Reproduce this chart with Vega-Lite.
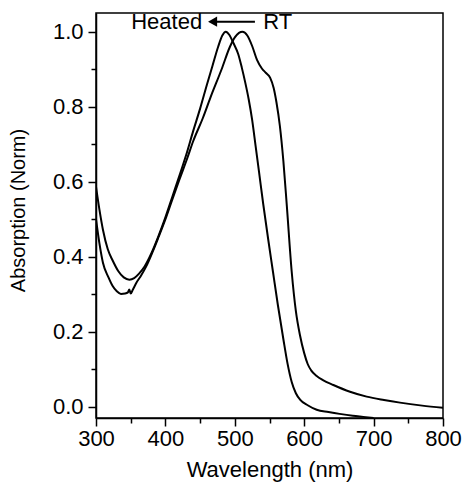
{
  "$schema": "https://vega.github.io/schema/vega-lite/v6.json",
  "autosize": {"type": "none"},
  "padding": {"left": 96, "top": 13, "right": 20, "bottom": 64},
  "width": 347,
  "height": 405,
  "background": "white",
  "config": {
    "view": {"stroke": "black", "strokeWidth": 1.5},
    "font": "Liberation Sans",
    "axis": {"grid": false, "labelFlush": false, "labelOverlap": false, "domainColor": "black", "tickColor": "black", "labelColor": "black", "titleColor": "black", "domainWidth": 1.5, "tickWidth": 1.5, "labelFont": "Liberation Sans", "titleFont": "Liberation Sans", "titleFontWeight": "normal"}
  },
  "datasets": {
    "spectra": [
      {"wl": 300, "abs": 0.587, "sample": "Heated"},
      {"wl": 305, "abs": 0.525, "sample": "Heated"},
      {"wl": 310, "abs": 0.472, "sample": "Heated"},
      {"wl": 317, "abs": 0.42, "sample": "Heated"},
      {"wl": 324, "abs": 0.39, "sample": "Heated"},
      {"wl": 332, "abs": 0.362, "sample": "Heated"},
      {"wl": 340, "abs": 0.345, "sample": "Heated"},
      {"wl": 348, "abs": 0.339, "sample": "Heated"},
      {"wl": 355, "abs": 0.343, "sample": "Heated"},
      {"wl": 362, "abs": 0.355, "sample": "Heated"},
      {"wl": 370, "abs": 0.374, "sample": "Heated"},
      {"wl": 380, "abs": 0.41, "sample": "Heated"},
      {"wl": 390, "abs": 0.455, "sample": "Heated"},
      {"wl": 400, "abs": 0.505, "sample": "Heated"},
      {"wl": 410, "abs": 0.56, "sample": "Heated"},
      {"wl": 420, "abs": 0.615, "sample": "Heated"},
      {"wl": 430, "abs": 0.672, "sample": "Heated"},
      {"wl": 440, "abs": 0.735, "sample": "Heated"},
      {"wl": 450, "abs": 0.795, "sample": "Heated"},
      {"wl": 460, "abs": 0.86, "sample": "Heated"},
      {"wl": 468, "abs": 0.91, "sample": "Heated"},
      {"wl": 476, "abs": 0.96, "sample": "Heated"},
      {"wl": 482, "abs": 0.99, "sample": "Heated"},
      {"wl": 487, "abs": 1.0, "sample": "Heated"},
      {"wl": 492, "abs": 0.992, "sample": "Heated"},
      {"wl": 498, "abs": 0.97, "sample": "Heated"},
      {"wl": 505, "abs": 0.94, "sample": "Heated"},
      {"wl": 510, "abs": 0.905, "sample": "Heated"},
      {"wl": 515, "abs": 0.865, "sample": "Heated"},
      {"wl": 520, "abs": 0.82, "sample": "Heated"},
      {"wl": 525, "abs": 0.765, "sample": "Heated"},
      {"wl": 530, "abs": 0.695, "sample": "Heated"},
      {"wl": 535, "abs": 0.625, "sample": "Heated"},
      {"wl": 541, "abs": 0.54, "sample": "Heated"},
      {"wl": 548, "abs": 0.448, "sample": "Heated"},
      {"wl": 555, "abs": 0.36, "sample": "Heated"},
      {"wl": 562, "abs": 0.272, "sample": "Heated"},
      {"wl": 570, "abs": 0.18, "sample": "Heated"},
      {"wl": 576, "abs": 0.115, "sample": "Heated"},
      {"wl": 582, "abs": 0.066, "sample": "Heated"},
      {"wl": 588, "abs": 0.036, "sample": "Heated"},
      {"wl": 594, "abs": 0.019, "sample": "Heated"},
      {"wl": 605, "abs": 0.004, "sample": "Heated"},
      {"wl": 618, "abs": -0.008, "sample": "Heated"},
      {"wl": 635, "abs": -0.014, "sample": "Heated"},
      {"wl": 651, "abs": -0.019, "sample": "Heated"},
      {"wl": 670, "abs": -0.024, "sample": "Heated"},
      {"wl": 685, "abs": -0.027, "sample": "Heated"},
      {"wl": 700, "abs": -0.03, "sample": "Heated"},
      {"wl": 300, "abs": 0.5, "sample": "RT"},
      {"wl": 305, "abs": 0.435, "sample": "RT"},
      {"wl": 310, "abs": 0.384, "sample": "RT"},
      {"wl": 318, "abs": 0.345, "sample": "RT"},
      {"wl": 324, "abs": 0.322, "sample": "RT"},
      {"wl": 330, "abs": 0.308, "sample": "RT"},
      {"wl": 336, "abs": 0.301, "sample": "RT"},
      {"wl": 342, "abs": 0.302, "sample": "RT"},
      {"wl": 346, "abs": 0.305, "sample": "RT"},
      {"wl": 348, "abs": 0.313, "sample": "RT"},
      {"wl": 350, "abs": 0.302, "sample": "RT"},
      {"wl": 353, "abs": 0.312, "sample": "RT"},
      {"wl": 358, "abs": 0.33, "sample": "RT"},
      {"wl": 365, "abs": 0.35, "sample": "RT"},
      {"wl": 372, "abs": 0.373, "sample": "RT"},
      {"wl": 382, "abs": 0.415, "sample": "RT"},
      {"wl": 390, "abs": 0.452, "sample": "RT"},
      {"wl": 401, "abs": 0.505, "sample": "RT"},
      {"wl": 410, "abs": 0.553, "sample": "RT"},
      {"wl": 420, "abs": 0.605, "sample": "RT"},
      {"wl": 431, "abs": 0.66, "sample": "RT"},
      {"wl": 440, "abs": 0.708, "sample": "RT"},
      {"wl": 454, "abs": 0.77, "sample": "RT"},
      {"wl": 465, "abs": 0.825, "sample": "RT"},
      {"wl": 481, "abs": 0.9, "sample": "RT"},
      {"wl": 493, "abs": 0.96, "sample": "RT"},
      {"wl": 500, "abs": 0.985, "sample": "RT"},
      {"wl": 506, "abs": 0.997, "sample": "RT"},
      {"wl": 511, "abs": 1.0, "sample": "RT"},
      {"wl": 518, "abs": 0.99, "sample": "RT"},
      {"wl": 525, "abs": 0.962, "sample": "RT"},
      {"wl": 532, "abs": 0.925, "sample": "RT"},
      {"wl": 539, "abs": 0.902, "sample": "RT"},
      {"wl": 545, "abs": 0.89, "sample": "RT"},
      {"wl": 551, "abs": 0.877, "sample": "RT"},
      {"wl": 556, "abs": 0.85, "sample": "RT"},
      {"wl": 560, "abs": 0.812, "sample": "RT"},
      {"wl": 565, "abs": 0.748, "sample": "RT"},
      {"wl": 570, "abs": 0.655, "sample": "RT"},
      {"wl": 575, "abs": 0.535, "sample": "RT"},
      {"wl": 582, "abs": 0.36, "sample": "RT"},
      {"wl": 588, "abs": 0.255, "sample": "RT"},
      {"wl": 594, "abs": 0.19, "sample": "RT"},
      {"wl": 600, "abs": 0.143, "sample": "RT"},
      {"wl": 605, "abs": 0.114, "sample": "RT"},
      {"wl": 610, "abs": 0.097, "sample": "RT"},
      {"wl": 618, "abs": 0.082, "sample": "RT"},
      {"wl": 627, "abs": 0.071, "sample": "RT"},
      {"wl": 642, "abs": 0.058, "sample": "RT"},
      {"wl": 666, "abs": 0.04, "sample": "RT"},
      {"wl": 690, "abs": 0.027, "sample": "RT"},
      {"wl": 715, "abs": 0.018, "sample": "RT"},
      {"wl": 738, "abs": 0.011, "sample": "RT"},
      {"wl": 770, "abs": 0.003, "sample": "RT"},
      {"wl": 800, "abs": -0.003, "sample": "RT"}
    ],
    "labelLeft": [
      {"wl": 453, "abs": 1.027, "text": "Heated"}
    ],
    "labelRight": [
      {"wl": 541, "abs": 1.027, "text": "RT"}
    ],
    "arrow": [
      {"wl": 468, "wl2": 529, "abs": 1.027}
    ]
  },
  "layer": [
    {
      "data": {"name": "spectra"},
      "mark": {"type": "line", "color": "black", "strokeWidth": 2, "interpolate": "monotone", "clip": true},
      "encoding": {
        "x": {"field": "wl", "type": "quantitative", "scale": {"domain": [300, 800], "nice": false},
          "axis": {"values": [300, 400, 500, 600, 700, 800], "tickSize": 8, "labelFontSize": 22, "labelPadding": 2, "title": "Wavelength (nm)", "titleFontSize": 22, "titlePadding": 10}},
        "y": {"field": "abs", "type": "quantitative", "scale": {"domain": [-0.03, 1.05], "nice": false, "zero": false},
          "axis": {"values": [0, 0.2, 0.4, 0.6, 0.8, 1.0], "format": ".1f", "tickSize": 8, "labelFontSize": 22, "labelPadding": 5, "title": "Absorption (Norm)", "titleFontSize": 20, "titlePadding": 24, "titleY": 197}},
        "detail": {"field": "sample"}
      }
    },
    {
      "data": {"name": "spectra"},
      "mark": {"type": "line", "opacity": 0},
      "encoding": {
        "x": {"field": "wl", "type": "quantitative",
          "axis": {"orient": "bottom", "values": [350, 450, 550, 650, 750], "tickSize": 5, "labels": false, "domain": false, "title": null}},
        "y": {"field": "abs", "type": "quantitative",
          "axis": {"orient": "left", "values": [0.1, 0.3, 0.5, 0.7, 0.9], "tickSize": 5, "labels": false, "domain": false, "title": null}},
        "detail": {"field": "sample"}
      }
    },
    {
      "data": {"name": "labelLeft"},
      "mark": {"type": "text", "fontSize": 22, "font": "Liberation Sans", "color": "black", "baseline": "middle", "align": "right"},
      "encoding": {
        "x": {"field": "wl", "type": "quantitative", "axis": null},
        "y": {"field": "abs", "type": "quantitative", "axis": null},
        "text": {"field": "text"}
      }
    },
    {
      "data": {"name": "labelRight"},
      "mark": {"type": "text", "fontSize": 22, "font": "Liberation Sans", "color": "black", "baseline": "middle", "align": "left"},
      "encoding": {
        "x": {"field": "wl", "type": "quantitative", "axis": null},
        "y": {"field": "abs", "type": "quantitative", "axis": null},
        "text": {"field": "text"}
      }
    },
    {
      "data": {"name": "arrow"},
      "mark": {"type": "rule", "color": "black", "strokeWidth": 2},
      "encoding": {
        "x": {"field": "wl", "type": "quantitative", "axis": null},
        "x2": {"field": "wl2"},
        "y": {"field": "abs", "type": "quantitative", "axis": null}
      }
    },
    {
      "data": {"name": "arrow"},
      "mark": {"type": "point", "shape": "triangle-left", "filled": true, "color": "black", "opacity": 1, "size": 110},
      "encoding": {
        "x": {"field": "wl", "type": "quantitative", "axis": null},
        "y": {"field": "abs", "type": "quantitative", "axis": null}
      }
    }
  ],
  "resolve": {"axis": {"x": "independent", "y": "independent"}}
}
